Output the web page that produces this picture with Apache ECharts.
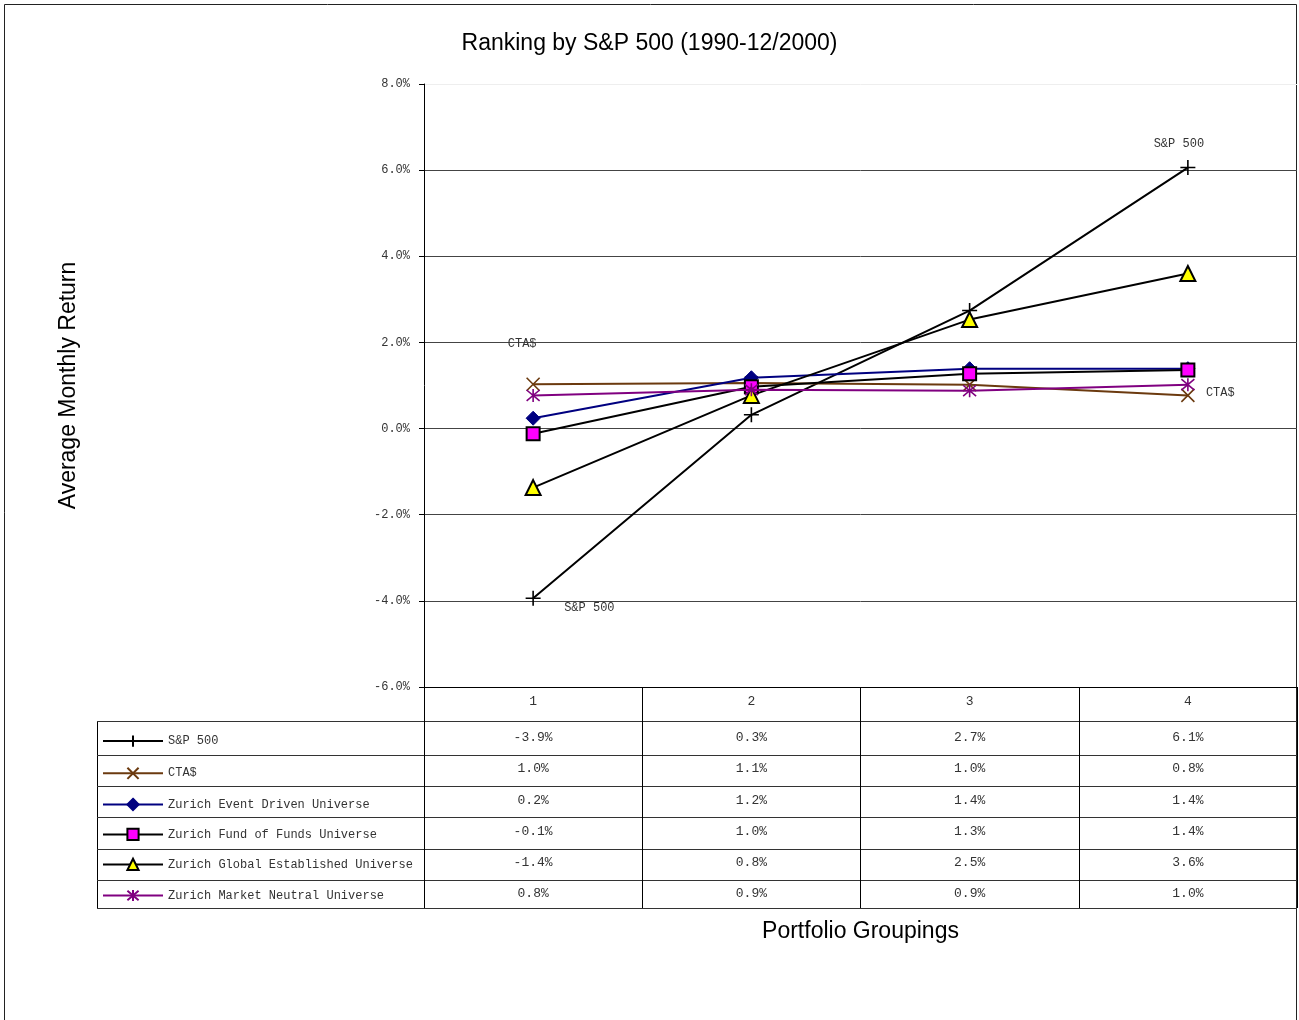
<!DOCTYPE html>
<html><head><meta charset="utf-8">
<script src="https://cdn.jsdelivr.net/npm/echarts@6/dist/echarts.min.js"></script>
<style>html,body{margin:0;padding:0;background:#fff}#c{width:1299px;height:1020px}</style>
</head><body><div id="c"></div>
<script>
const categories = ['1', '2', '3', '4'];
const seriesNames = ['S&P 500', 'CTA$', 'Zurich Event Driven Universe', 'Zurich Fund of Funds Universe', 'Zurich Global Established Universe', 'Zurich Market Neutral Universe'];
const sp500 = [-3.94, 0.32, 2.74, 6.06];
const cta = [1.03, 1.06, 1.02, 0.77];
const eventDriven = [0.24, 1.18, 1.39, 1.39];
const fundOfFunds = [-0.12, 0.97, 1.27, 1.36];
const globalEst = [-1.37, 0.77, 2.53, 3.60];
const marketNeutral = [0.77, 0.90, 0.88, 1.02];
const yMin = -6, yMax = 8, yStep = 2;

const allValues = [sp500, cta, eventDriven, fundOfFunds, globalEst, marketNeutral];
const MONO = 'Liberation Mono';
const SANS = 'Liberation Sans';
const fmt = v => v.toFixed(1) + '%';

const symPlus = 'path://M5,0L5,10M0,5L10,5';
const symX = 'path://M0,0L10,10M10,0L0,10';
const symStar = 'path://M0,0L10,10M10,0L0,10M5,-1L5,11';

const styles = [
  {line: '#000000', symbol: symPlus, size: 15, fill: 'none', border: '#000000', bw: 1.6},
  {line: '#6B3A0F', symbol: symX, size: 13, fill: 'none', border: '#6B3A0F', bw: 1.6},
  {line: '#000080', symbol: 'diamond', size: 14, fill: '#000080', border: '#000080', bw: 1},
  {line: '#000000', symbol: 'rect', size: 13, fill: '#FF00FF', border: '#000000', bw: 2},
  {line: '#000000', symbol: 'triangle', size: 15, fill: '#FFFF00', border: '#000000', bw: 2},
  {line: '#800080', symbol: symStar, size: 13, fill: 'none', border: '#800080', bw: 1.6}
];

const labelStyle = {show: true, fontFamily: MONO, fontSize: 12, color: '#333'};
const specialLabels = {
  '0-0': {position: 'right', offset: [16, 10], formatter: 'S&P 500'},
  '0-3': {position: 'top', offset: [-9, -3], formatter: 'S&P 500'},
  '1-0': {position: 'top', offset: [-11, -20], formatter: 'CTA$'},
  '1-3': {position: 'right', offset: [4, -3], formatter: 'CTA$'}
};

const series = allValues.map((vals, si) => ({
  name: seriesNames[si],
  type: 'line',
  symbol: styles[si].symbol,
  symbolSize: styles[si].size,
  showAllSymbol: true,
  lineStyle: {color: styles[si].line, width: 2},
  itemStyle: {color: styles[si].fill, borderColor: styles[si].border, borderWidth: styles[si].bw},
  emphasis: {disabled: true},
  z: 2 + si,
  data: vals.map((v, i) => {
    const sl = specialLabels[si + '-' + i];
    return sl ? {value: v, label: Object.assign({}, labelStyle, sl)} : {value: v};
  })
}));

// Table rows drawn as extra category axes (value text only)
const rowOffsets = [36, 67, 99, 130, 161, 192];
const tableAxes = allValues.map((vals, si) => ({
  type: 'category',
  data: categories,
  position: 'bottom',
  offset: rowOffsets[si],
  axisLine: {show: false},
  axisTick: {show: false},
  splitLine: {show: false},
  axisLabel: {interval: 0, margin: 8, fontFamily: MONO, fontSize: 13, color: '#333',
    formatter: (v, idx) => fmt(vals[idx])}
}));

const gridTop = 84, gridBottomY = 687, tableLeft = 97, tableRight = 1297;
const rowLines = [721, 755, 786, 817, 849, 880, 908];
const graphics = [
  {type: 'rect', shape: {x: 4.5, y: 4.5, width: 1292, height: 1040}, style: {fill: 'none', stroke: '#222', lineWidth: 1}, silent: true},
  {type: 'line', shape: {x1: tableLeft + 0.5, y1: rowLines[0], x2: tableLeft + 0.5, y2: rowLines[rowLines.length - 1]}, style: {stroke: '#000', lineWidth: 1}, silent: true}
].concat(rowLines.map(y => ({
  type: 'line', shape: {x1: tableLeft, y1: y + 0.5, x2: tableRight, y2: y + 0.5},
  style: {stroke: '#333', lineWidth: 1}, silent: true
})));

const chart = echarts.init(document.getElementById('c'), null, {renderer: 'canvas'});
chart.setOption({
  backgroundColor: '#fff',
  animation: false,
  title: {text: 'Ranking by S&P 500 (1990-12/2000)', left: 'center', top: 27,
    textStyle: {fontFamily: SANS, fontSize: 23, fontWeight: 'normal', color: '#000'}},
  legend: {
    orient: 'vertical', left: 97, top: 728, itemWidth: 60, itemHeight: 14, itemGap: 16,
    selectedMode: false,
    textStyle: {fontFamily: MONO, fontSize: 12, color: '#333', lineHeight: 14},
    data: seriesNames
  },
  grid: {left: 424, right: 2, top: gridTop, bottom: 1020 - gridBottomY, containLabel: false},
  xAxis: [{
    type: 'category',
    data: categories,
    boundaryGap: true,
    position: 'bottom',
    name: 'Portfolio Groupings',
    nameLocation: 'middle',
    nameGap: 233,
    nameTextStyle: {fontFamily: SANS, fontSize: 23, color: '#000'},
    axisLine: {onZero: false, lineStyle: {color: '#000', width: 1}},
    axisTick: {show: true, interval: 0, inside: false, length: 221, lineStyle: {color: '#000', width: 1}},
    axisLabel: {interval: 0, margin: 8, fontFamily: MONO, fontSize: 13, color: '#333'},
    splitLine: {show: false}
  }].concat(tableAxes),
  yAxis: {
    type: 'value', min: yMin, max: yMax, interval: yStep,
    name: 'Average Monthly Return', nameLocation: 'middle', nameGap: 344, nameRotate: 90,
    nameTextStyle: {fontFamily: SANS, fontSize: 23, color: '#000'},
    axisLine: {show: true, lineStyle: {color: '#000'}},
    axisTick: {show: true, length: 5, lineStyle: {color: '#000'}},
    axisLabel: {margin: 14, fontFamily: MONO, fontSize: 12, color: '#333', formatter: v => v.toFixed(1) + '%'},
    splitLine: {show: true, lineStyle: {color: ['#444', '#444', '#444', '#444', '#444', '#444', '#444', '#eeeeee'], width: 1}}
  },
  graphic: graphics,
  series: series
});
</script>
</body></html>
